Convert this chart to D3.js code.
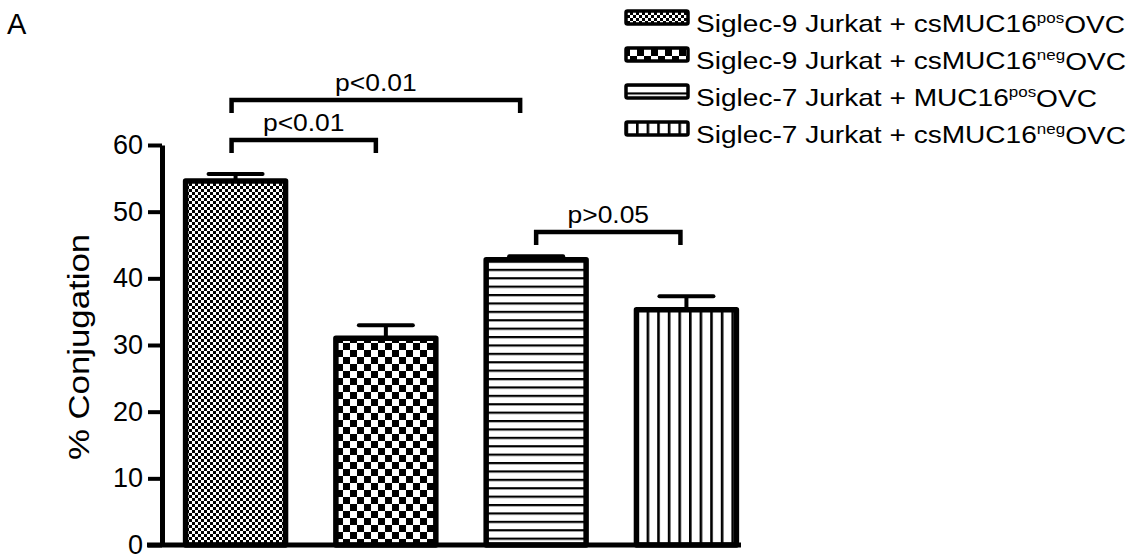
<!DOCTYPE html>
<html><head><meta charset="utf-8">
<script src="https://cdn.jsdelivr.net/npm/d3@7"></script>
<style>body{margin:0;background:#fff} text{font-family:"Liberation Sans",Arial,Helvetica,sans-serif;fill:#000}</style>
</head><body><svg id="c" width="1127" height="556"></svg>
<script>
// ---- data ----
const categories = ["S9_csMUC16pos", "S9_csMUC16neg", "S7_MUC16pos", "S7_csMUC16neg"];
const values = [54.6, 31.0, 42.8, 35.3];
const errors = [1.05, 1.95, 0.5, 2.0];
const patternIds = ["fineCheck", "coarseCheck", "hLines", "vLines"];
const legendBase = ["Siglec-9 Jurkat + csMUC16", "Siglec-9 Jurkat + csMUC16", "Siglec-7 Jurkat + MUC16", "Siglec-7 Jurkat + csMUC16"];
const legendSup = ["pos", "neg", "pos", "neg"];
const legendSuffix = ["OVC", "OVC", "OVC", "OVC"];
const yTicks = [0, 10, 20, 30, 40, 50, 60];
const yLabel = "% Conjugation";
const panelLabel = "A";
const bracketFrom = [0, 0, 2];
const bracketTo = [2, 1, 3];
const bracketLevel = [66.75, 60.75, 46.95];
const bracketLabel = ["p<0.01", "p<0.01", "p>0.05"];

// ---- layout ----
const svg = d3.select("#c");
const y = d3.scaleLinear().domain([0, 60]).range([545, 145]);
const x = d3.scaleBand().domain(categories).range([160.5, 761.5]).paddingInner(0.335).paddingOuter(0.167);
const bw = x.bandwidth();
const cx = i => x(categories[i]) + bw / 2;

// patterns
const defs = svg.append("defs");
let p = defs.append("pattern").attr("id", "fineCheck").attr("patternUnits", "userSpaceOnUse").attr("width", 6).attr("height", 6);
p.append("rect").attr("width", 6).attr("height", 6).attr("fill", "#fff");
p.append("rect").attr("width", 3).attr("height", 3).attr("fill", "#000");
p.append("rect").attr("x", 3).attr("y", 3).attr("width", 3).attr("height", 3).attr("fill", "#000");
p = defs.append("pattern").attr("id", "coarseCheck").attr("patternUnits", "userSpaceOnUse").attr("width", 14).attr("height", 14);
p.append("rect").attr("width", 14).attr("height", 14).attr("fill", "#fff");
p.append("rect").attr("width", 7).attr("height", 7).attr("fill", "#000");
p.append("rect").attr("x", 7).attr("y", 7).attr("width", 7).attr("height", 7).attr("fill", "#000");
p = defs.append("pattern").attr("id", "hLines").attr("patternUnits", "userSpaceOnUse").attr("width", 10).attr("height", 8.4);
p.append("rect").attr("width", 10).attr("height", 8.4).attr("fill", "#fff");
p.append("rect").attr("y", 0).attr("width", 10).attr("height", 2.2).attr("fill", "#000");
p = defs.append("pattern").attr("id", "vLines").attr("patternUnits", "userSpaceOnUse").attr("width", 10.6).attr("height", 10);
p.append("rect").attr("width", 10.6).attr("height", 10).attr("fill", "#fff");
p.append("rect").attr("x", 0).attr("width", 2.6).attr("height", 10).attr("fill", "#000");

// bars
svg.append("g").selectAll("rect").data(values).join("rect")
  .attr("x", (d, i) => x(categories[i]))
  .attr("y", d => y(d))
  .attr("width", bw)
  .attr("height", d => y(0) - y(d))
  .attr("fill", (d, i) => `url(#${patternIds[i]})`)
  .attr("stroke", "#000").attr("stroke-width", 5.5).attr("stroke-linejoin", "round");

// error bars
const eb = svg.append("g").attr("stroke", "#000").attr("stroke-width", 4);
values.forEach((v, i) => {
  eb.append("line").attr("x1", cx(i)).attr("x2", cx(i)).attr("y1", y(v)).attr("y2", y(v + errors[i]));
  eb.append("line").attr("x1", cx(i) - 27).attr("x2", cx(i) + 27).attr("y1", y(v + errors[i])).attr("y2", y(v + errors[i])).attr("stroke-linecap", "round");
});

// axes
const yAxis = svg.append("g").attr("transform", "translate(162,0)")
  .call(d3.axisLeft(y).tickValues(yTicks).tickSize(14).tickSizeOuter(0).tickPadding(5));
yAxis.select(".domain").attr("stroke-width", 5);
yAxis.selectAll(".tick line").attr("stroke-width", 4);
yAxis.selectAll(".tick text").attr("font-size", 27).attr("font-family", "Liberation Sans, Arial, sans-serif").attr("fill", "#000");
svg.append("line").attr("x1", 147).attr("x2", 741).attr("y1", y(0)).attr("y2", y(0)).attr("stroke", "#000").attr("stroke-width", 5);

// y label
svg.append("text").attr("transform", "translate(89,347) rotate(-90) scale(1.2,1)")
  .attr("text-anchor", "middle").attr("font-size", 29).text(yLabel);

// panel label
svg.append("text").attr("x", 7).attr("y", 34).attr("font-size", 29).text(panelLabel);

// brackets
const inset = [[-4, -16], [-4, -10], [0, -6]];
const bg = svg.append("g");
bracketLabel.forEach((lab, k) => {
  const x1 = cx(bracketFrom[k]) + inset[k][0], x2 = cx(bracketTo[k]) + inset[k][1];
  const yy = y(bracketLevel[k]);
  bg.append("path").attr("d", `M${x1},${yy + 13}V${yy}H${x2}V${yy + 13}`)
    .attr("fill", "none").attr("stroke", "#000").attr("stroke-width", 4.5);
  bg.append("text").attr("transform", `translate(${(x1 + x2) / 2},${yy - 9}) scale(1.15,1)`)
    .attr("text-anchor", "middle").attr("font-size", 23).text(lab);
});

// legend
const lg = svg.append("g");
legendBase.forEach((t, i) => {
  const yy = 11 + i * 37;
  lg.append("rect").attr("x", 626).attr("y", yy).attr("width", 62).attr("height", 13)
    .attr("fill", `url(#${patternIds[i]})`).attr("stroke", "#000").attr("stroke-width", 3.5).attr("rx", 1.5);
  const tx = lg.append("text").attr("transform", `translate(696,${yy + 15}) scale(1.17,1)`)
    .attr("font-size", 24).attr("dominant-baseline", "middle");
  tx.append("tspan").text(t);
  tx.append("tspan").attr("font-size", 14.5).attr("dy", "-0.45em").text(legendSup[i]);
  tx.append("tspan").attr("dy", "0.28em").text(legendSuffix[i]);
});
</script></body></html>
